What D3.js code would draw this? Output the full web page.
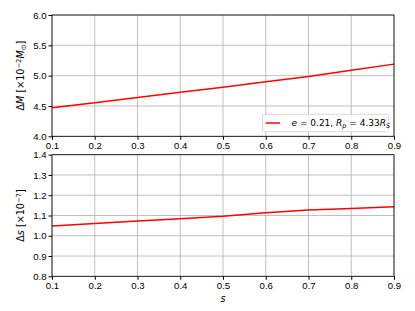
<!DOCTYPE html>
<html>
<head>
  <meta charset="utf-8">
  <title>D3.js</title>
  <style>
    body { margin: 0; background: #fff; }
    svg { font-family: "DejaVu Sans", sans-serif; }
    .tick text { font-size: 9.6px; fill: #000; }
  </style>
</head>
<body>
  <svg width="415" height="311"></svg>
  <script src="https://cdnjs.cloudflare.com/ajax/libs/d3/7.8.5/d3.min.js"></script>
  <script>
    // valores
    const sVals = [0.1, 0.2, 0.3, 0.4, 0.5, 0.6, 0.7, 0.8, 0.9];
    const dM = [4.47, 4.555, 4.64, 4.725, 4.81, 4.9, 4.985, 5.09, 5.19];
    const dS = [1.048, 1.061, 1.073, 1.084, 1.096, 1.113, 1.127, 1.135, 1.143];
    const xTicks = [0.1, 0.2, 0.3, 0.4, 0.5, 0.6, 0.7, 0.8, 0.9];
    const yTicksTop = [4.0, 4.5, 5.0, 5.5, 6.0];
    const yTicksBot = [0.8, 0.9, 1.0, 1.1, 1.2, 1.3, 1.4];

    const svg = d3.select('svg');
    const left = 52, right = 394;

    let x = d3.scaleLinear().domain([0.1, 0.9]).range([left, right]);

    function panel(top, bottom, domain, ticks, values) {
      let y = d3.scaleLinear().domain(domain).range([bottom, top]);
      let g = svg.append('g');

      // rejilla
      g.selectAll('.gx').data(xTicks).enter().append('line')
       .attr('x1', d => x(d)).attr('x2', d => x(d))
       .attr('y1', top).attr('y2', bottom)
       .attr('stroke', '#b0b0b0').attr('stroke-width', 0.8);
      g.selectAll('.gy').data(ticks).enter().append('line')
       .attr('x1', left).attr('x2', right)
       .attr('y1', d => y(d)).attr('y2', d => y(d))
       .attr('stroke', '#b0b0b0').attr('stroke-width', 0.8);

      let line = d3.line().x((d, i) => x(sVals[i])).y(d => y(d));
      g.append('path').datum(values)
       .attr('d', line).attr('fill', 'none')
       .attr('stroke', 'red').attr('stroke-width', 1.5);

      g.append('g').attr('transform', 'translate(0,' + bottom + ')')
       .call(d3.axisBottom(x).tickValues(xTicks).tickFormat(d3.format('.1f')).tickSize(3.5).tickPadding(2));
      g.append('g').attr('transform', 'translate(' + left + ',0)')
       .call(d3.axisLeft(y).tickValues(ticks).tickFormat(d3.format('.1f')).tickSize(3.5).tickPadding(2));
      g.selectAll('.domain').remove();

      g.append('rect')
       .attr('x', left).attr('y', top)
       .attr('width', right - left).attr('height', bottom - top)
       .attr('fill', 'none').attr('stroke', '#000').attr('stroke-width', 0.8);
      return y;
    }

    panel(15, 136.3, [4.0, 6.0], yTicksTop, dM);
    panel(154.7, 276.3, [0.8, 1.4], yTicksBot, dS);

    // etiquetas de ejes
    let t1 = svg.append('text').attr('transform', 'translate(24,' + (15 + 136.3) / 2 + ') rotate(-90)')
      .attr('text-anchor', 'middle').attr('font-size', 9.6);
    t1.append('tspan').text('Δ');
    t1.append('tspan').attr('font-style', 'italic').text('M');
    t1.append('tspan').text(' [×10');
    t1.append('tspan').attr('font-size', 6.8).attr('dy', -3.5).text('−2');
    t1.append('tspan').attr('dy', 3.5).attr('font-style', 'italic').text('M');
    t1.append('tspan').attr('font-size', 6.8).attr('dy', 2).text('⊙');
    t1.append('tspan').attr('dy', -2).text(']');

    let t2 = svg.append('text').attr('transform', 'translate(24,' + (154.7 + 276.3) / 2 + ') rotate(-90)')
      .attr('text-anchor', 'middle').attr('font-size', 9.6);
    t2.append('tspan').text('Δ');
    t2.append('tspan').attr('font-style', 'italic').text('s');
    t2.append('tspan').text(' [×10');
    t2.append('tspan').attr('font-size', 6.8).attr('dy', -3.5).text('−7');
    t2.append('tspan').attr('dy', 3.5).text(']');

    svg.append('text').attr('x', (left + right) / 2).attr('y', 302)
      .attr('text-anchor', 'middle').attr('font-size', 9.6).attr('font-style', 'italic').text('s');

    // leyenda
    let lg = svg.append('g');
    lg.append('rect').attr('x', 262.5).attr('y', 114.3).attr('width', 126).attr('height', 17.4)
      .attr('rx', 2).attr('fill', '#fff').attr('fill-opacity', 0.8)
      .attr('stroke', '#d0d0d0').attr('stroke-width', 0.8);
    lg.append('line').attr('x1', 265.7).attr('x2', 280).attr('y1', 123).attr('y2', 123)
      .attr('stroke', 'red').attr('stroke-width', 1.5);
    let lt = lg.append('text').attr('x', 291.5).attr('y', 126.3).attr('font-size', 9);
    lt.append('tspan').attr('font-style', 'italic').text('e');
    lt.append('tspan').text(' = 0.21, ');
    lt.append('tspan').attr('font-style', 'italic').text('R');
    lt.append('tspan').attr('font-size', 6.4).attr('font-style', 'italic').attr('dy', 2).text('p');
    lt.append('tspan').attr('dy', -2).text(' = 4.33');
    lt.append('tspan').attr('font-style', 'italic').text('R');
    lt.append('tspan').attr('font-size', 6.4).attr('font-style', 'italic').attr('dy', 2).text('S');
  </script>
</body>
</html>
